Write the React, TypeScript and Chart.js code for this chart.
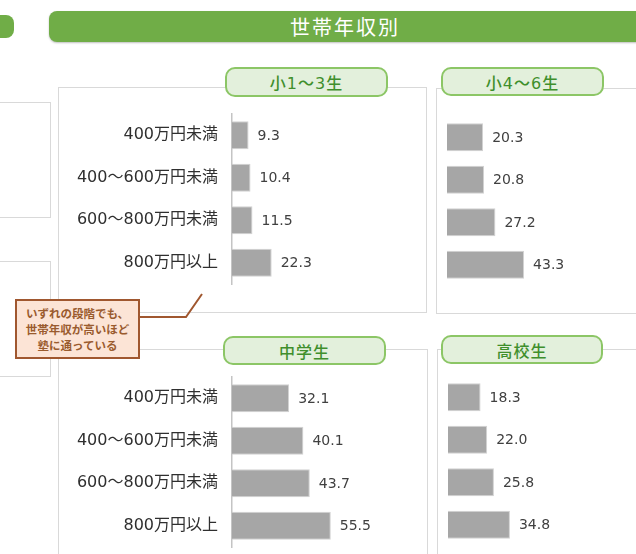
import React, { useEffect, useRef } from 'react';
import { Chart, registerables } from 'chart.js';

Chart.register(...registerables);

const pageTitle = '世帯年収別';
const categories = ['400万円未満', '400～600万円未満', '600～800万円未満', '800万円以上'];
const panelTitles = ['小1～3生', '小4～6生', '中学生', '高校生'];
const grade1to3 = [9.3, 10.4, 11.5, 22.3];
const grade4to6 = [20.3, 20.8, 27.2, 43.3];
const juniorHigh = [32.1, 40.1, 43.7, 55.5];
const highSchool = [18.3, 22.0, 25.8, 34.8];
const noteLines = ['いずれの段階でも、', '世帯年収が高いほど', '塾に通っている'];
const X_MAX = 100;

const LABEL_FONT = '"DejaVu Sans", "Noto Sans CJK JP", sans-serif';
const CJK_FONT = '"Noto Sans CJK JP", "DejaVu Sans", sans-serif';

const valueLabels = {
  id: 'valueLabels',
  afterDatasetsDraw(chart: any) {
    const ctx = chart.ctx;
    const meta = chart.getDatasetMeta(0);
    const data = chart.data.datasets[0].data as number[];
    ctx.save();
    ctx.font = '14px ' + LABEL_FONT;
    ctx.fillStyle = '#404040';
    ctx.textAlign = 'left';
    ctx.textBaseline = 'middle';
    meta.data.forEach((el: any, i: number) => {
      ctx.fillText(Number(data[i]).toFixed(1), el.x + 9, el.y + 1);
    });
    ctx.restore();
  },
};

type PanelProps = {
  values: number[];
  showAxis: boolean;
  left: number;
  top: number;
  width: number;
  height: number;
  padding: { top: number; bottom: number; left: number; right: number };
};

function BarPanel({ values, showAxis, left, top, width, height, padding }: PanelProps) {
  const ref = useRef<HTMLCanvasElement | null>(null);
  useEffect(() => {
    if (!ref.current) return;
    const chart = new Chart(ref.current, {
      type: 'bar',
      data: {
        labels: categories,
        datasets: [
          {
            data: values,
            backgroundColor: '#a6a6a6',
            borderColor: '#d2d2d2',
            borderWidth: 1,
            barPercentage: 0.66,
            categoryPercentage: 1,
          },
        ],
      },
      options: {
        indexAxis: 'y',
        responsive: false,
        animation: false,
        layout: { padding },
        plugins: { legend: { display: false }, tooltip: { enabled: false } },
        scales: {
          x: { display: false, min: 0, max: X_MAX },
          y: {
            display: showAxis,
            grid: { display: false, drawTicks: false },
            border: { display: true, color: '#c4c4c4', width: 1.5 },
            ticks: {
              padding: 14,
              color: '#2f2f2f',
              font: { family: LABEL_FONT, size: 16 },
            },
            afterFit: (s: any) => {
              if (showAxis) {
                s.width = 172;
              } else {
                s.width = 0;
              }
              s.paddingTop = 0;
              s.paddingBottom = 0;
            },
          },
        },
      },
      plugins: [valueLabels],
    } as any);
    return () => chart.destroy();
  }, []);
  return (
    <canvas
      ref={ref}
      width={width}
      height={height}
      style={{ position: 'absolute', left, top, width, height }}
    />
  );
}

const lineColor = '#d9d9d9';

function Box({ left, top, width, height }: { left: number; top: number; width: number; height: number }) {
  return (
    <div
      style={{
        position: 'absolute',
        left,
        top,
        width,
        height,
        border: '1px solid ' + lineColor,
        boxSizing: 'border-box',
      }}
    />
  );
}

function Pill({ left, top, width, height, text }: { left: number; top: number; width: number; height: number; text: string }) {
  return (
    <div
      style={{
        position: 'absolute',
        left,
        top,
        width,
        height,
        boxSizing: 'border-box',
        border: '2px solid #8cc666',
        borderRadius: 10,
        background: '#e3f0dc',
        color: '#3f8f2c',
        fontFamily: LABEL_FONT,
        fontSize: 16,
        fontWeight: 500,
        display: 'flex',
        alignItems: 'center',
        justifyContent: 'center',
        letterSpacing: 1,
      }}
    >
      {text}
    </div>
  );
}

export default function App() {
  return (
    <div
      style={{
        position: 'fixed',
        left: 0,
        top: 0,
        width: 636,
        height: 554,
        overflow: 'hidden',
        background: '#ffffff',
      }}
    >
      {/* left partial boxes */}
      <Box left={-20} top={102} width={71} height={116} />
      <Box left={-20} top={261} width={71} height={116} />

      {/* panel frames */}
      <Box left={58} top={87} width={369} height={226} />
      <Box left={436} top={88} width={300} height={226} />
      <Box left={58} top={349} width={370} height={300} />
      <Box left={437} top={349} width={300} height={300} />

      {/* title bar */}
      <div
        style={{
          position: 'absolute',
          left: -20,
          top: 15,
          width: 34,
          height: 23,
          background: '#70ad47',
          borderRadius: 8,
        }}
      />
      <div
        style={{
          position: 'absolute',
          left: 49,
          top: 11,
          width: 600,
          height: 31,
          background: '#70ad47',
          borderRadius: '8px 0 0 8px',
          boxShadow: '0 1px 2px rgba(0,0,0,0.25)',
        }}
      />
      <div
        style={{
          position: 'absolute',
          left: 49,
          top: 11,
          width: 592,
          height: 31,
          color: '#ffffff',
          fontFamily: CJK_FONT,
          fontSize: 20,
          letterSpacing: 2,
          display: 'flex',
          alignItems: 'center',
          justifyContent: 'center',
        }}
      >
        {pageTitle}
      </div>

      <BarPanel
        values={grade1to3}
        showAxis={true}
        left={60}
        top={104}
        width={360}
        height={190}
        padding={{ top: 10, bottom: 10, left: 0, right: 10 }}
      />
      <BarPanel
        values={grade4to6}
        showAxis={false}
        left={440}
        top={106}
        width={196}
        height={190}
        padding={{ top: 10, bottom: 10, left: 7, right: 11 }}
      />
      <BarPanel
        values={juniorHigh}
        showAxis={true}
        left={60}
        top={367}
        width={360}
        height={187}
        padding={{ top: 10, bottom: 7, left: 0, right: 10 }}
      />
      <BarPanel
        values={highSchool}
        showAxis={false}
        left={441}
        top={366}
        width={195}
        height={188}
        padding={{ top: 10, bottom: 8, left: 7, right: 10 }}
      />

      <Pill left={225} top={67} width={163} height={30} text={panelTitles[0]} />
      <Pill left={441} top={67} width={163} height={29} text={panelTitles[1]} />
      <Pill left={223} top={336} width={163} height={29} text={panelTitles[2]} />
      <Pill left={441} top={335} width={162} height={29} text={panelTitles[3]} />

      {/* annotation connector */}
      <svg
        width={636}
        height={554}
        style={{ position: 'absolute', left: 0, top: 0, pointerEvents: 'none' }}
      >
        <polyline points="138,317 186,317 202,294" fill="none" stroke="#a0572f" strokeWidth={2} />
      </svg>
      <div
        style={{
          position: 'absolute',
          left: 15,
          top: 299,
          width: 125,
          height: 60,
          boxSizing: 'border-box',
          border: '2px solid #a0572f',
          background: '#fce4d6',
          color: '#9a5b2e',
          fontFamily: CJK_FONT,
          fontSize: 11.5,
          fontWeight: 700,
          lineHeight: '16px',
          display: 'flex',
          flexDirection: 'column',
          alignItems: 'center',
          justifyContent: 'center',
          whiteSpace: 'nowrap',
        }}
      >
        {noteLines.map((l, i) => (
          <div key={i}>{l}</div>
        ))}
      </div>
    </div>
  );
}
